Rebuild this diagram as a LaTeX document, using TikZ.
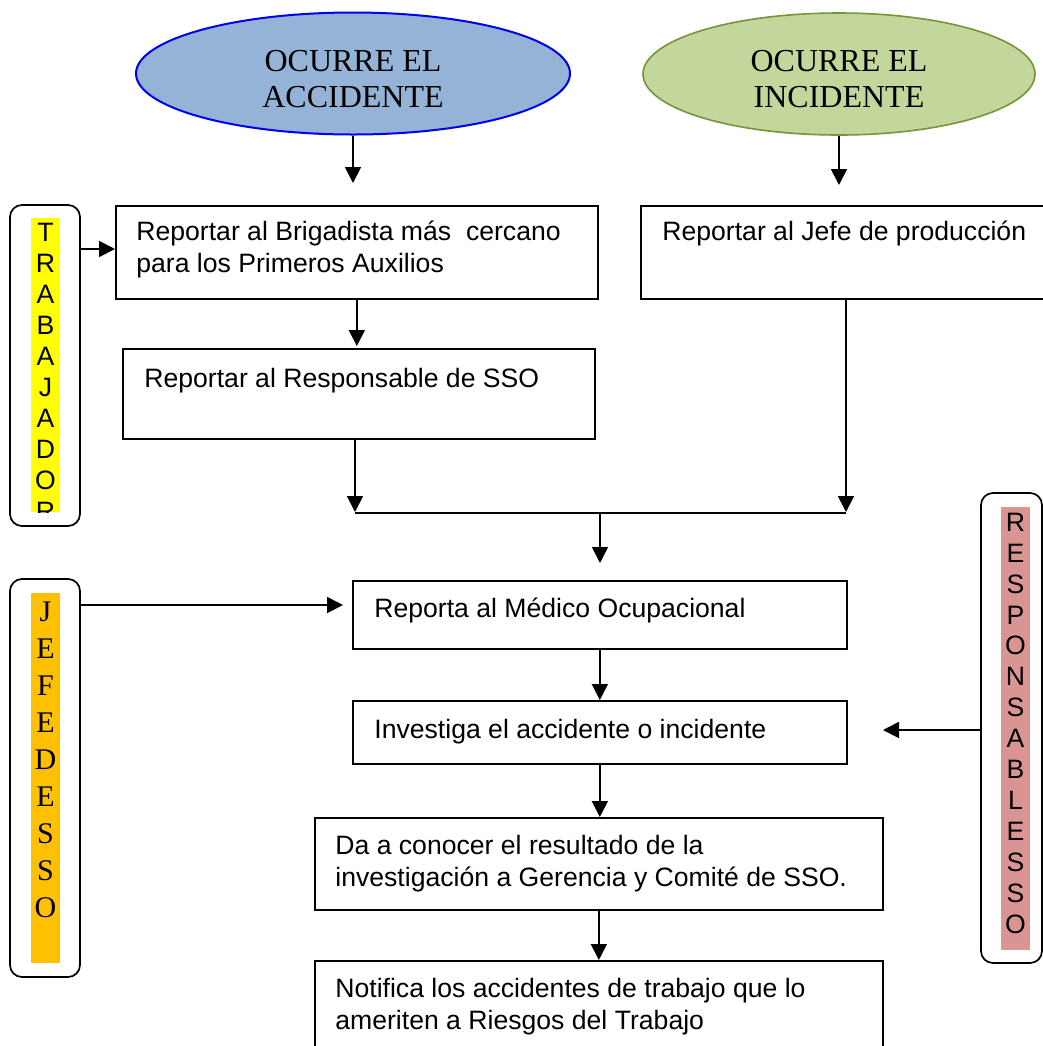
\documentclass[tikz,border=0pt]{standalone}
\usepackage{fontspec}
\setmainfont{Liberation Sans}
\newfontfamily\serifface{Liberation Serif}
\usetikzlibrary{arrows.meta,shapes.geometric}

\definecolor{ellblue}{HTML}{95B3D7}
\definecolor{ellbluedraw}{HTML}{0000F0}
\definecolor{ellgreen}{HTML}{C3D69B}
\definecolor{ellgreendraw}{HTML}{77933C}
\definecolor{hlyellow}{HTML}{FFFF00}
\definecolor{hlorange}{HTML}{FFC000}
\definecolor{hlpink}{HTML}{D99594}

% multi-line texts are placed by the baseline of their last line
\tikzset{
  stepbox/.style={draw=black, line width=0.85pt, rectangle, inner sep=0pt, anchor=north west},
  sidebox/.style={draw=black, line width=0.85pt, rectangle, rounded corners=6pt, inner sep=0pt},
  boxtext/.style={anchor=base west, inner sep=0pt, align=left,
    font=\fontsize{13.3}{16}\selectfont},
  ovaltext/.style={anchor=base, inner sep=0pt, align=center,
    font=\serifface\fontsize{16}{18}\selectfont},
  sanscol/.style={anchor=base, inner sep=0pt, align=center,
    font=\fontsize{13.3}{15.45}\selectfont},
  serifcol/.style={anchor=base, inner sep=0pt, align=center,
    font=\serifface\fontsize{15}{18.5}\selectfont},
  arr/.style={line width=0.9pt, -{Triangle[length=8pt,width=8pt]}},
  plain/.style={line width=0.9pt}
}

\begin{document}
\begin{tikzpicture}[x=0.5pt, y=-0.5pt]
\useasboundingbox (0,0) rectangle (1043,1046);
\clip (0,0) rectangle (1043,1046);

% start events
\node[ellipse, fill=ellblue, draw=ellbluedraw, line width=1pt,
      minimum width=217pt, minimum height=61pt, inner sep=0pt] (acc) at (353,73.5) {};
\node[ovaltext] (acct) at (353,107) {OCURRE EL\\ACCIDENTE};
\node[ellipse, fill=ellgreen, draw=ellgreendraw, line width=0.8pt,
      minimum width=196pt, minimum height=61pt, inner sep=0pt] (inc) at (839,74) {};
\node[ovaltext] (inct) at (839,107) {OCURRE EL\\INCIDENTE};

% process boxes
\node[stepbox, minimum width=241pt, minimum height=46.5pt] (b1) at (115,205) {};
\node[boxtext] (b1t) at (136,272) {Reportar al Brigadista más\ \ cercano\\para los Primeros Auxilios};
\node[stepbox, minimum width=220pt, minimum height=46.5pt] (b2) at (640,205) {};
\node[boxtext] (b2t) at (662,240) {Reportar al Jefe de producción};
\node[stepbox, minimum width=236pt, minimum height=45pt] (b3) at (122,348) {};
\node[boxtext] (b3t) at (144,387) {Reportar al Responsable de SSO};
\node[stepbox, minimum width=247pt, minimum height=34pt] (b4) at (352,580) {};
\node[boxtext] (b4t) at (374,617) {Reporta al Médico Ocupacional};
\node[stepbox, minimum width=247pt, minimum height=31.5pt] (b5) at (352,700) {};
\node[boxtext] (b5t) at (374,738) {Investiga el accidente o incidente};
\node[stepbox, minimum width=284pt, minimum height=46pt] (b6) at (314,817) {};
\node[boxtext] (b6t) at (335,886) {Da a conocer el resultado de la\\investigación a Gerencia y Comité de SSO.};
\node[stepbox, minimum width=284pt, minimum height=60pt] (b7) at (314,960) {};
\node[boxtext] (b7t) at (335,1029) {Notifica los accidentes de trabajo que lo\\ameriten a Riesgos del Trabajo};

% side labels
\node[sidebox, minimum width=35pt, minimum height=160.5pt] (trab) at (45,365.5) {};
\fill[hlyellow] (31,218) rectangle (60,512);
\begin{scope}
  \clip (20,218) rectangle (70,512);
  \node[sanscol] (trabt) at (45.5,520) {T\\R\\A\\B\\A\\J\\A\\D\\O\\R};
\end{scope}

\node[sidebox, minimum width=35pt, minimum height=199pt] (jefe) at (45,778) {};
\fill[hlorange] (31,593) rectangle (60,963);
\node[serifcol] (jefet) at (45.5,917) {J\\E\\F\\E\\D\\E\\S\\S\\O};

\node[sidebox, minimum width=30.5pt, minimum height=235pt] (resp) at (1011.5,728) {};
\fill[hlpink] (1001,507) rectangle (1030,950);
\node[sanscol] (respt) at (1015.5,933) {R\\E\\S\\P\\O\\N\\S\\A\\B\\L\\E\\S\\S\\O};

% connector end points
\coordinate (a1) at (353,183);
\coordinate (a2) at (839,185);
\coordinate (a3) at (356,346);
\coordinate (jl) at (355,513);
\coordinate (jr) at (846,513);
\coordinate (jm) at (600,513);
\coordinate (a4) at (600,563);
\coordinate (k1) at (0,249);
\coordinate (k2) at (0,605);
\coordinate (a5) at (343,605);
\coordinate (k3) at (0,730);
\coordinate (a6) at (883,730);

% connectors
\draw[arr] (acc.south) -- (acc.south |- a1);
\draw[arr] (inc.south) -- (inc.south |- a2);
\draw[arr] (trab.east |- k1) -- (b1.west |- k1);
\draw[arr] (b1.south) -- (b1.south |- a3);
\draw[arr] (b3.south -| jl) -- ([yshift=0.5pt]jl);
\draw[arr] (b2.south -| jr) -- ([yshift=0.5pt]jr);
\draw[plain] (jl) -- (jr);
\draw[arr] (jm) -- (a4);
\draw[arr] (jefe.east |- k2) -- (a5);
\draw[arr] (b4.south) -- (b4.south |- b5.north);
\draw[arr] (b5.south) -- (b5.south |- b6.north);
\draw[arr] (b6.south) -- (b6.south |- b7.north);
\draw[arr] (resp.west |- k3) -- (a6);
\end{tikzpicture}
\end{document}
